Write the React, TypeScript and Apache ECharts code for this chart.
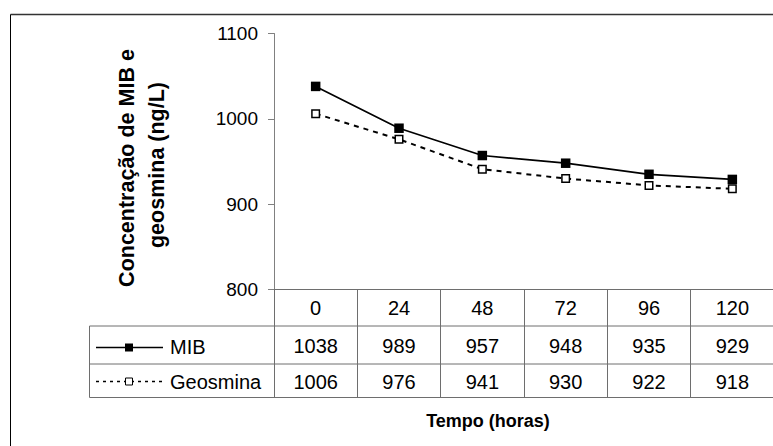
import React, { useEffect, useRef } from "react";
import * as echarts from "echarts";

// Sampling times (hours) and measured concentrations (ng/L)
const hours = ["0", "24", "48", "72", "96", "120"];
const mib = [1038, 989, 957, 948, 935, 929];
const geosmina = [1006, 976, 941, 930, 922, 918];
const seriesNames = ["MIB", "Geosmina"];
const yMin = 800;
const yMax = 1100;
const yStep = 100;

const FONT = "'Liberation Sans', Arial, Helvetica, sans-serif";
const TABLE_LINE = "#6e6e6e";

export default function App() {
  const ref = useRef<HTMLDivElement>(null);

  useEffect(() => {
    if (!ref.current) return;
    const chart = echarts.init(ref.current, undefined, { renderer: "svg" });

    const gridLeft = 274;
    const gridTop = 33.5;
    const gridHeight = 256;
    const axisY = gridTop + gridHeight; // 289.5
    const rowMib = 326;
    const rowGeo = 364;
    const rowEnd = 397.5;
    const legendLeft = 89.5;

    const tableLabel = { fontSize: 20, color: "#000", fontFamily: FONT };

    chart.setOption({
      animation: false,
      backgroundColor: "#fff",
      grid: {
        left: gridLeft,
        top: gridTop,
        width: 500,
        height: gridHeight,
        containLabel: false,
        outerBoundsMode: "none",
      },
      xAxis: [
        {
          type: "category",
          data: hours,
          position: "bottom",
          boundaryGap: true,
          axisLine: { show: true, lineStyle: { color: TABLE_LINE, width: 1 } },
          axisTick: {
            show: true,
            length: rowEnd - axisY,
            interval: 0,
            lineStyle: { color: TABLE_LINE, width: 1 },
          },
          axisLabel: { ...tableLabel, interval: 0, margin: 8 },
          splitLine: { show: false },
        },
        {
          type: "category",
          data: mib.map(String),
          position: "bottom",
          offset: 38,
          axisLine: { show: false },
          axisTick: { show: false },
          axisLabel: { ...tableLabel, interval: 0, margin: 8 },
        },
        {
          type: "category",
          data: geosmina.map(String),
          position: "bottom",
          offset: 74,
          axisLine: { show: false },
          axisTick: { show: false },
          axisLabel: { ...tableLabel, interval: 0, margin: 8 },
        },
      ],
      yAxis: {
        type: "value",
        min: yMin,
        max: yMax,
        interval: yStep,
        axisLine: { show: true, lineStyle: { color: "#808080", width: 1 } },
        axisTick: { show: true, inside: false, length: 6, lineStyle: { color: "#808080" } },
        axisLabel: {
          fontSize: 19,
          color: "#000",
          fontFamily: FONT,
          margin: 16,
          formatter: (v: number) => String(v),
        },
        splitLine: { show: false },
      },
      series: [
        {
          name: seriesNames[0],
          type: "line",
          data: mib,
          xAxisIndex: 0,
          symbol: "rect",
          symbolSize: 9.5,
          lineStyle: { color: "#000", width: 1.7, type: "solid" },
          itemStyle: { color: "#000", borderColor: "#000", borderWidth: 0 },
        },
        {
          name: seriesNames[1],
          type: "line",
          data: geosmina,
          xAxisIndex: 0,
          symbol: "rect",
          symbolSize: 7.5,
          lineStyle: { color: "#000", width: 2, type: [5, 5] },
          itemStyle: { color: "#fff", borderColor: "#000", borderWidth: 1.5 },
        },
      ],
      graphic: [
        // outer chart frame (left and top edges)
        { type: "line", shape: { x1: 10.5, y1: 14.5, x2: 773, y2: 14.5 }, style: { stroke: "#333", lineWidth: 1.5 } },
        { type: "line", shape: { x1: 10.5, y1: 14.5, x2: 10.5, y2: 446 }, style: { stroke: "#000", lineWidth: 1 } },
        // data table rules
        { type: "line", shape: { x1: legendLeft, y1: rowMib, x2: 773, y2: rowMib }, style: { stroke: TABLE_LINE, lineWidth: 1 } },
        { type: "line", shape: { x1: legendLeft, y1: rowGeo, x2: 773, y2: rowGeo }, style: { stroke: TABLE_LINE, lineWidth: 1 } },
        { type: "line", shape: { x1: legendLeft, y1: rowEnd, x2: 773, y2: rowEnd }, style: { stroke: TABLE_LINE, lineWidth: 1 } },
        { type: "line", shape: { x1: legendLeft, y1: rowMib, x2: legendLeft, y2: rowEnd }, style: { stroke: TABLE_LINE, lineWidth: 1 } },
        // legend keys inside the table
        { type: "line", shape: { x1: 96, y1: 347.5, x2: 163, y2: 347.5 }, style: { stroke: "#000", lineWidth: 1.3 } },
        { type: "rect", shape: { x: 125, y: 343.5, width: 8, height: 8 }, style: { fill: "#000" } },
        { type: "line", shape: { x1: 96, y1: 381.5, x2: 163, y2: 381.5 }, style: { stroke: "#000", lineWidth: 1.5, lineDash: [3, 4] } },
        { type: "rect", shape: { x: 125.5, y: 378, width: 7, height: 7 }, style: { fill: "#fff", stroke: "#000", lineWidth: 1 } },
        {
          type: "text",
          x: 170,
          y: 346.5,
          style: { text: seriesNames[0], fontSize: 20, fontFamily: FONT, fill: "#000", verticalAlign: "middle", align: "left" },
        },
        {
          type: "text",
          x: 170,
          y: 381.5,
          style: { text: seriesNames[1], fontSize: 20, fontFamily: FONT, fill: "#000", verticalAlign: "middle", align: "left" },
        },
        // axis titles
        {
          type: "text",
          x: 126.5,
          y: 168,
          rotation: Math.PI / 2,
          style: {
            text: "Concentração de MIB e",
            fontSize: 21.5,
            fontWeight: "bold",
            fontFamily: FONT,
            fill: "#000",
            align: "center",
            verticalAlign: "middle",
          },
        },
        {
          type: "text",
          x: 157,
          y: 165,
          rotation: Math.PI / 2,
          style: {
            text: "geosmina (ng/L)",
            fontSize: 21.5,
            fontWeight: "bold",
            fontFamily: FONT,
            fill: "#000",
            align: "center",
            verticalAlign: "middle",
          },
        },
        {
          type: "text",
          x: 488,
          y: 421,
          style: {
            text: "Tempo (horas)",
            fontSize: 18,
            fontWeight: "bold",
            fontFamily: FONT,
            fill: "#000",
            align: "center",
            verticalAlign: "middle",
          },
        },
      ],
    });

    return () => chart.dispose();
  }, []);

  return (
    <div
      ref={ref}
      style={{ position: "fixed", left: 0, top: 0, width: 773, height: 446, background: "#fff" }}
    />
  );
}
